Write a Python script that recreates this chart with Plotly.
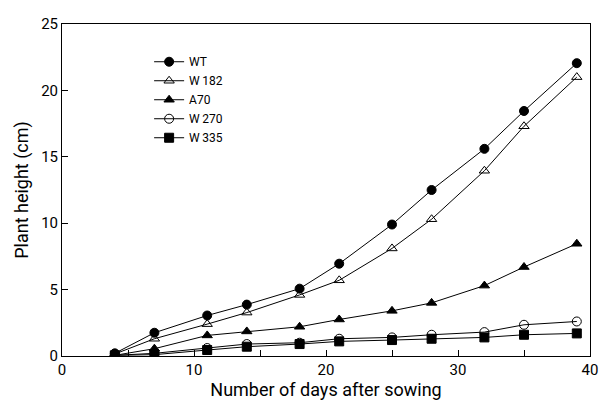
import plotly.graph_objects as go

days = [4, 7, 11, 14, 18, 21, 25, 28, 32, 35, 39]
wt   = [0.2, 1.75, 3.05, 3.87, 5.07, 6.95, 9.9, 12.5, 15.6, 18.45, 22.05]
w182 = [0.15, 1.3, 2.4, 3.27, 4.6, 5.7, 8.1, 10.3, 13.95, 17.3, 21.0]
a70  = [0.05, 0.55, 1.55, 1.85, 2.2, 2.75, 3.4, 4.0, 5.3, 6.7, 8.45]
w270 = [0.05, 0.2, 0.6, 0.9, 1.0, 1.3, 1.4, 1.6, 1.8, 2.35, 2.6]
w335 = [0.05, 0.1, 0.45, 0.7, 0.9, 1.1, 1.2, 1.3, 1.4, 1.6, 1.7]

series = [
    ("WT", wt, "circle"),
    ("W\u2009182", w182, "triangle-up-open"),
    ("A70", a70, "triangle-up"),
    ("W\u2009270", w270, "circle-open"),
    ("W\u2009335", w335, "square"),
]

FONT = "Roboto, Liberation Sans Narrow, sans-serif"

fig = go.Figure()
for name, vals, sym in series:
    fig.add_trace(go.Scatter(
        x=days, y=vals, name=name, mode="lines+markers",
        line=dict(color="black", width=1),
        marker=dict(symbol=sym, size=9, color="black",
                    line=dict(color="black", width=1)),
    ))

fig.update_layout(
    width=607, height=408,
    margin=dict(l=62, r=9, t=24, b=52),
    paper_bgcolor="white", plot_bgcolor="white",
    font=dict(family=FONT, size=15, color="black"),
    showlegend=True,
    legend=dict(x=0.165, y=0.93, xanchor="left", yanchor="top",
                bgcolor="rgba(0,0,0,0)", font=dict(size=12),
                tracegroupgap=0),
    xaxis=dict(range=[0, 40], tickvals=[0, 5, 10, 15, 20, 25, 30, 35, 40],
               ticktext=["0", "", "10", "", "20", "", "30", "", "40"],
               ticks="inside", ticklen=6, tickcolor="black",
               showline=True, linecolor="black", linewidth=1, mirror=True,
               showgrid=False, zeroline=False,
               title=dict(text="Number of days after sowing", standoff=2)),
    yaxis=dict(range=[0, 25], tickvals=[0, 5, 10, 15, 20, 25],
               ticks="inside", ticklen=6, tickcolor="black",
               showline=True, linecolor="black", linewidth=1, mirror=True,
               showgrid=False, zeroline=False,
               title=dict(text="Plant height (cm)", standoff=7)),
)

fig.write_html("out.html",
               config={"displayModeBar": False},
               post_script="document.body.style.margin='0';document.body.style.overflow='hidden';")
